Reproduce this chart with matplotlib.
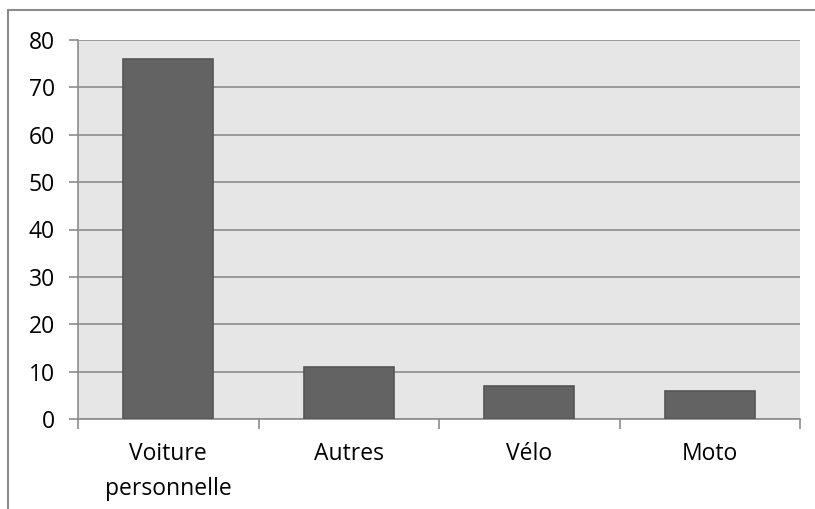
import matplotlib
matplotlib.use('Agg')
import matplotlib.pyplot as plt
from matplotlib.lines import Line2D

# data
categories = ["Voiture\npersonnelle", "Autres", "Vélo", "Moto"]
values = [76, 11, 7, 6]
y_ticks = [0, 10, 20, 30, 40, 50, 60, 70, 80]

plt.rcParams['font.family'] = ['Open Sans', 'DejaVu Sans']

fig = plt.figure(figsize=(8.15, 5.09), dpi=100)
ax = fig.add_axes([78 / 815, 1 - 419 / 509, 722 / 815, 379 / 509])

ax.set_facecolor('#e6e6e6')
x = range(len(categories))
ax.bar(x, values, width=0.5, color='#636363', edgecolor='#555555',
       linewidth=1.2, zorder=3)

ax.set_xlim(-0.5, len(categories) - 0.5)
ax.set_ylim(0, 80)
ax.set_yticks(y_ticks)
ax.set_yticklabels([str(t) for t in y_ticks])
ax.yaxis.grid(True, color='#8c8c8c', linewidth=1.2, zorder=1)

# category labels centred, ticks on the boundaries
ax.set_xticks(list(x))
ax.set_xticklabels(categories, linespacing=1.62)
ax.set_xticks([i - 0.5 for i in range(len(categories) + 1)], minor=True)
ax.tick_params(axis='x', which='major', length=0, pad=16.5, labelsize=16.5)
ax.tick_params(axis='x', which='minor', length=7, color='#8c8c8c', width=1.2)
ax.tick_params(axis='y', length=6.5, color='#8c8c8c', width=1.2, pad=10,
               labelsize=16.5)

for side in ['top', 'right']:
    ax.spines[side].set_visible(False)
for side in ['left', 'bottom']:
    ax.spines[side].set_color('#8c8c8c')
    ax.spines[side].set_linewidth(1.2)

# chart frame (top and left edges only visible)
fig.add_artist(Line2D([8 / 815, 8 / 815], [0, 1 - 10 / 509], color='#8c8c8c', lw=1.5))
fig.add_artist(Line2D([8 / 815, 1], [1 - 10 / 509, 1 - 10 / 509], color='#8c8c8c', lw=1.5))

fig.savefig('out.png', dpi=100)
